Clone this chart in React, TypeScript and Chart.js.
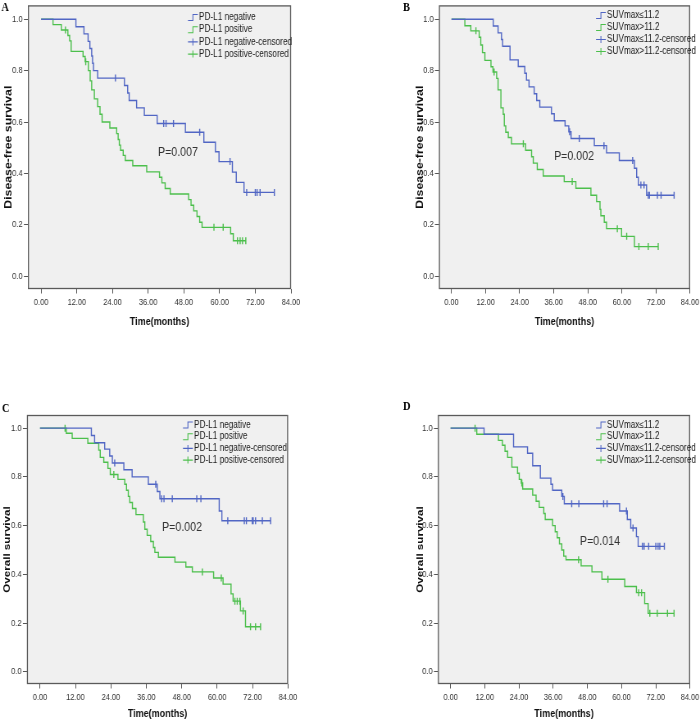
import { useEffect, useRef } from "react";
import { Chart, registerables } from "chart.js";
Chart.register(...registerables);

const SANS = "'Liberation Sans', Arial, sans-serif";
const SERIF = "'Liberation Serif', 'Times New Roman', serif";
const BLUE = "#5166c4";
const GREEN = "#4cbf4c";

// ---- tick values ----
const xTicks = [0, 12, 24, 36, 48, 60, 72, 84];
const yTicks = [0, 0.2, 0.4, 0.6, 0.8, 1.0];

// ---- labels ----
const panelLetters = ["A", "B", "C", "D"];
const yTitles = ["Disease-free survival", "Disease-free survival", "Overall survival", "Overall survival"];
const xTitle = "Time(months)";
const pValues = ["P=0.007", "P=0.002", "P=0.002", "P=0.014"];
const legendPD = ["PD-L1 negative", "PD-L1 positive", "PD-L1 negative-censored", "PD-L1 positive-censored"];
const legendSUV = ["SUVmax≤11.2", "SUVmax>11.2", "SUVmax≤11.2-censored", "SUVmax>11.2-censored"];

// ---- Panel A: DFS by PD-L1 ----
const aNegT = [0, 11.7, 14.4, 15.8, 16.4, 17.0, 17.3, 17.6, 19.0, 28.0, 29.1, 29.6, 32.1, 34.7, 39.0, 48.5, 54.7, 58.6, 59.8, 64.3, 65.6, 68.2];
const aNegS = [1, 0.971, 0.943, 0.914, 0.886, 0.857, 0.829, 0.8, 0.771, 0.742, 0.713, 0.684, 0.655, 0.626, 0.594, 0.56, 0.521, 0.484, 0.446, 0.405, 0.365, 0.326];
const aNegC = [25.0, 41.2, 42.0, 44.5, 53.3, 63.5, 69.1, 72.0, 72.6, 73.6, 78.4];
const aPosT = [0, 4.0, 6.8, 9.0, 9.6, 10.1, 14.1, 14.8, 15.9, 16.5, 17.0, 17.9, 19.0, 19.8, 20.5, 23.1, 25.4, 25.9, 26.3, 26.7, 27.6, 28.3, 30.8, 35.5, 39.8, 40.6, 41.7, 43.4, 49.6, 50.4, 51.3, 52.4, 53.3, 54.1, 63.7, 64.6];
const aPosS = [1, 0.979, 0.958, 0.937, 0.916, 0.875, 0.855, 0.835, 0.8, 0.76, 0.725, 0.69, 0.66, 0.63, 0.6, 0.577, 0.555, 0.532, 0.51, 0.49, 0.47, 0.45, 0.43, 0.406, 0.385, 0.363, 0.341, 0.32, 0.298, 0.276, 0.254, 0.232, 0.21, 0.19, 0.165, 0.138];
const aPosC = [8.2, 15.0, 58.1, 61.2, 66.0, 66.9, 67.7, 68.8];

// ---- Panel B: DFS by SUVmax ----
const bLowT = [0, 14.7, 16.4, 17.6, 18.0, 20.6, 23.5, 25.8, 26.4, 27.3, 29.1, 30.0, 31.1, 35.2, 36.2, 40.0, 41.3, 42.1, 50.3, 54.6, 59.1, 64.4, 65.2, 65.8, 68.7];
const bLowS = [1, 0.974, 0.947, 0.921, 0.895, 0.842, 0.816, 0.79, 0.763, 0.737, 0.71, 0.684, 0.658, 0.632, 0.605, 0.585, 0.562, 0.536, 0.508, 0.48, 0.45, 0.42, 0.385, 0.355, 0.315];
const bLowC = [41.6, 45.0, 53.7, 63.8, 66.7, 67.8, 69.3, 69.7, 72.5, 73.8, 78.4];
const bHighT = [0, 4.7, 6.8, 9.75, 10.3, 10.9, 11.75, 13.9, 14.6, 15.9, 16.4, 17.4, 18.2, 18.6, 19.1, 20.0, 21.1, 26.1, 28.2, 28.8, 30.2, 32.3, 39.7, 43.8, 49.1, 51.1, 52.3, 52.6, 53.8, 54.6, 59.9, 64.4];
const bHighS = [1, 0.975, 0.955, 0.93, 0.9, 0.87, 0.84, 0.815, 0.795, 0.77, 0.725, 0.655, 0.63, 0.585, 0.56, 0.54, 0.515, 0.49, 0.465, 0.44, 0.415, 0.39, 0.368, 0.342, 0.315, 0.29, 0.26, 0.235, 0.21, 0.185, 0.155, 0.115];
const bHighC = [8.6, 15.0, 25.3, 42.5, 58.4, 61.7, 66.0, 69.3, 72.8];

// ---- Panel C: OS by PD-L1 ----
const cNegT = [0, 17.4, 18.5, 21.9, 23.6, 24.5, 28.4, 31.2, 36.7, 39.7, 40.6, 60.7, 61.6];
const cNegS = [1, 0.97, 0.94, 0.914, 0.886, 0.857, 0.829, 0.8, 0.77, 0.74, 0.71, 0.66, 0.62];
const cNegC = [25.3, 39.2, 41.2, 42.0, 44.8, 53.1, 54.5, 63.6, 69.2, 69.9, 71.9, 72.2, 73.0, 75.3, 78.1];
const cPosT = [0, 8.9, 10.9, 16.2, 19.9, 20.4, 21.6, 23.0, 23.8, 26.4, 28.7, 29.3, 29.9, 30.4, 31.3, 32.5, 35.0, 35.5, 36.3, 37.5, 38.4, 38.9, 40.1, 45.7, 49.4, 51.6, 58.8, 62.0, 64.7, 65.4, 67.9, 69.6];
const cPosS = [1, 0.979, 0.958, 0.938, 0.91, 0.88, 0.86, 0.835, 0.81, 0.79, 0.77, 0.745, 0.72, 0.695, 0.67, 0.645, 0.615, 0.585, 0.56, 0.535, 0.51, 0.49, 0.47, 0.45, 0.43, 0.41, 0.385, 0.36, 0.32, 0.29, 0.25, 0.185];
const cPosC = [8.5, 25.0, 55.0, 61.4, 66.0, 66.8, 67.7, 68.8, 71.3, 73.0, 74.7];

// ---- Panel D: OS by SUVmax ----
const dLowT = [0, 11.75, 22.1, 27.0, 28.8, 31.5, 35.2, 35.8, 39.0, 39.9, 59.3, 62.0, 63.2, 65.2, 65.8];
const dLowS = [1, 0.975, 0.923, 0.897, 0.846, 0.795, 0.77, 0.745, 0.72, 0.69, 0.66, 0.625, 0.59, 0.555, 0.515];
const dLowC = [39.4, 42.5, 45.0, 53.7, 54.9, 61.7, 64.0, 67.3, 67.9, 69.5, 72.0, 72.8, 73.4, 75.0];
const dHighT = [0, 9.2, 16.8, 18.2, 19.1, 20.0, 21.5, 23.5, 24.1, 24.8, 25.3, 28.8, 30.0, 31.1, 32.7, 33.2, 35.8, 36.7, 37.4, 38.2, 39.0, 39.7, 40.5, 45.8, 49.6, 53.1, 61.1, 65.2, 68.1, 69.3];
const dHighS = [1, 0.975, 0.95, 0.93, 0.905, 0.88, 0.84, 0.815, 0.79, 0.775, 0.75, 0.725, 0.7, 0.675, 0.65, 0.625, 0.6, 0.575, 0.55, 0.525, 0.5, 0.475, 0.46, 0.435, 0.41, 0.38, 0.35, 0.325, 0.28, 0.24];
const dHighC = [8.6, 25.0, 44.9, 55.2, 66.0, 67.0, 69.9, 72.5, 76.1, 78.4];

// display size of each panel, and a wider drawing surface squeezed horizontally
const CW = 350;
const CH = 363;
const CWL = 427;
const K = CW / CWL;

function stepAt(t: number[], s: number[], x: number) {
  let v = s[0];
  for (let i = 0; i < t.length; i++) if (t[i] <= x) v = s[i];
  return v;
}
function curve(t: number[], s: number[], cens: number[]) {
  const pts = t.map((x, i) => ({ x, y: s[i] }));
  const last = Math.max(...cens);
  if (last > t[t.length - 1]) pts.push({ x: last, y: s[s.length - 1] });
  return pts;
}
function censPts(t: number[], s: number[], cens: number[]) {
  return cens.map((x) => ({ x, y: stepAt(t, s, x) }));
}

type Layout = {
  left: number; top: number;
  area: { l: number; r: number; t: number; b: number };
  yTitleSize: number; yTitleX: number; xTitlePad: number;
  letter: { x: number; y: number };
  legend: { x: number; y: number; dy: number };
  p: { x: number; y: number };
};

// positions in display pixels, local to each panel
const layouts: Layout[] = [
  { left: 0, top: 0, area: { l: 28, r: 291, t: 3, b: 289 }, yTitleSize: 12.3, yTitleX: 8.5, xTitlePad: 34, letter: { x: 1.5, y: 11 }, legend: { x: 188, y: 17.5, dy: 12.2 }, p: { x: 158, y: 152 } },
  { left: 350, top: 0, area: { l: 89, r: 340, t: 3, b: 289 }, yTitleSize: 12.3, yTitleX: 70, xTitlePad: 34, letter: { x: 53, y: 11 }, legend: { x: 246, y: 15.5, dy: 12 }, p: { x: 204, y: 156 } },
  { left: 0, top: 363, area: { l: 27, r: 288, t: 52, b: 321 }, yTitleSize: 11.6, yTitleX: 7.5, xTitlePad: 5, letter: { x: 2, y: 49 }, legend: { x: 183, y: 62, dy: 11.7 }, p: { x: 162, y: 164 } },
  { left: 350, top: 363, area: { l: 88, r: 340, t: 52, b: 321 }, yTitleSize: 11.6, yTitleX: 70, xTitlePad: 5, letter: { x: 53, y: 47 }, legend: { x: 246, y: 62, dy: 11.7 }, p: { x: 230, y: 178 } },
];

const panelData = [
  { t1: aNegT, s1: aNegS, c1: aNegC, t2: aPosT, s2: aPosS, c2: aPosC, legend: legendPD },
  { t1: bLowT, s1: bLowS, c1: bLowC, t2: bHighT, s2: bHighS, c2: bHighC, legend: legendSUV },
  { t1: cNegT, s1: cNegS, c1: cNegC, t2: cPosT, s2: cPosS, c2: cPosC, legend: legendPD },
  { t1: dLowT, s1: dLowS, c1: dLowC, t2: dHighT, s2: dHighS, c2: dHighC, legend: legendSUV },
];

const decorPlugin = {
  id: "kmDecor",
  beforeDatasetsDraw(chart: any) {
    const { ctx, chartArea: a } = chart;
    ctx.save();
    ctx.fillStyle = "#f0f0f0";
    ctx.fillRect(a.left, a.top, a.right - a.left, a.bottom - a.top);
    ctx.restore();
  },
  afterDraw(chart: any, _args: any, opts: any) {
    const { ctx, chartArea: a } = chart;
    ctx.save();
    // frame
    ctx.strokeStyle = "#5a5a5a";
    ctx.lineWidth = 1.3;
    ctx.strokeRect(a.left + 0.5, a.top + 0.5, a.right - a.left - 1, a.bottom - a.top - 1);
    // legend
    const lg = opts.legend;
    ctx.font = `10px ${SANS}`;
    ctx.textBaseline = "middle";
    ctx.textAlign = "left";
    chart.data.datasets.forEach((d: any, i: number) => {
      const y = lg.y + i * lg.dy;
      const x = lg.x / K;
      ctx.strokeStyle = d.borderColor || d.pointBorderColor;
      ctx.lineWidth = 1.1;
      ctx.beginPath();
      if (i < 2) {
        ctx.moveTo(x, y + 3);
        ctx.lineTo(x + 6, y + 3);
        ctx.lineTo(x + 6, y - 3);
        ctx.lineTo(x + 12, y - 3);
      } else {
        ctx.moveTo(x, y);
        ctx.lineTo(x + 12, y);
        ctx.moveTo(x + 6, y - 3.5);
        ctx.lineTo(x + 6, y + 3.5);
      }
      ctx.stroke();
      ctx.fillStyle = "#222";
      ctx.fillText(d.label, x + 13.5, y);
    });
    // p value
    ctx.font = `13px ${SANS}`;
    ctx.fillStyle = "#333";
    ctx.fillText(opts.pText, opts.p.x / K, opts.p.y);
    // panel letter
    ctx.font = `bold 12.5px ${SERIF}`;
    ctx.textBaseline = "alphabetic";
    ctx.fillStyle = "#000";
    ctx.fillText(opts.letter, opts.letterPos.x / K, opts.letterPos.y);
    ctx.restore();
  },
};

function buildConfig(idx: number): any {
  const L = layouts[idx];
  const D = panelData[idx];
  const gridOpts = { display: true, drawOnChartArea: false, drawTicks: true, tickLength: 4.5, color: "#555", lineWidth: 1 };
  const yTitleLH = L.yTitleSize * 1.2;
  return {
    type: "line",
    data: {
      datasets: [
        { type: "line", label: D.legend[0], data: curve(D.t1, D.s1, D.c1), borderColor: BLUE, borderWidth: 1.4, pointRadius: 0, stepped: true, fill: false },
        { type: "line", label: D.legend[1], data: curve(D.t2, D.s2, D.c2), borderColor: GREEN, borderWidth: 1.4, pointRadius: 0, stepped: true, fill: false },
        { type: "scatter", label: D.legend[2], data: censPts(D.t1, D.s1, D.c1), borderColor: BLUE, pointBorderColor: BLUE, pointStyle: "line", pointRotation: 90, pointRadius: 3.5, pointBorderWidth: 1.4, showLine: false },
        { type: "scatter", label: D.legend[3], data: censPts(D.t2, D.s2, D.c2), borderColor: GREEN, pointBorderColor: GREEN, pointStyle: "line", pointRotation: 90, pointRadius: 3.5, pointBorderWidth: 1.4, showLine: false },
      ],
    },
    options: {
      animation: false,
      responsive: false,
      maintainAspectRatio: false,
      devicePixelRatio: 1,
      events: [],
      layout: { padding: { left: 0, top: L.area.t, right: (CW - L.area.r) / K, bottom: 0 } },
      plugins: {
        legend: { display: false },
        tooltip: { enabled: false },
        kmDecor: {
          legend: L.legend,
          p: L.p,
          pText: pValues[idx],
          letter: panelLetters[idx],
          letterPos: L.letter,
        },
      },
      scales: {
        x: {
          type: "linear",
          min: -4.4,
          max: 84,
          afterBuildTicks: (s: any) => { s.ticks = xTicks.map((v) => ({ value: v })); },
          afterFit: (s: any) => { s.height = CH - L.area.b; s.paddingLeft = 0; s.paddingRight = 0; },
          ticks: { callback: (v: any) => Number(v).toFixed(2), font: { family: SANS, size: 9 }, color: "#333", padding: 4, autoSkip: false, maxRotation: 0 },
          grid: gridOpts,
          border: { display: false },
          title: { display: true, text: xTitle, font: { family: SANS, size: 11, weight: "bold" }, color: "#111", padding: { top: 0, bottom: L.xTitlePad } },
        },
        y: {
          type: "linear",
          min: -0.05,
          max: 1.054,
          afterBuildTicks: (s: any) => { s.ticks = yTicks.map((v) => ({ value: v })); },
          afterFit: (s: any) => { s.width = L.area.l / K; s.paddingTop = 0; s.paddingBottom = 0; },
          ticks: { callback: (v: any) => Number(v).toFixed(1), font: { family: SANS, size: 9.3 }, color: "#333", padding: 1.5 },
          grid: { ...gridOpts, tickLength: 5 },
          border: { display: false },
          title: { display: true, text: yTitles[idx], font: { family: SANS, size: L.yTitleSize, weight: "bold" }, color: "#111", padding: { top: Math.max(0, L.yTitleX / K - yTitleLH / 2), bottom: 0 } },
        },
      },
    },
    plugins: [decorPlugin],
  };
}

function Panel({ idx }: { idx: number }) {
  const ref = useRef<HTMLCanvasElement>(null);
  useEffect(() => {
    const chart = new Chart(ref.current as HTMLCanvasElement, buildConfig(idx));
    return () => chart.destroy();
  }, [idx]);
  const L = layouts[idx];
  return (
    <canvas
      ref={ref}
      width={CWL}
      height={CH}
      style={{ position: "absolute", left: L.left, top: L.top, width: CW, height: CH }}
    />
  );
}

export default function App() {
  return (
    <div style={{ position: "absolute", left: 0, top: 0, width: 700, height: 726, background: "#fff", overflow: "hidden" }}>
      {layouts.map((_, i) => (
        <Panel key={i} idx={i} />
      ))}
    </div>
  );
}
